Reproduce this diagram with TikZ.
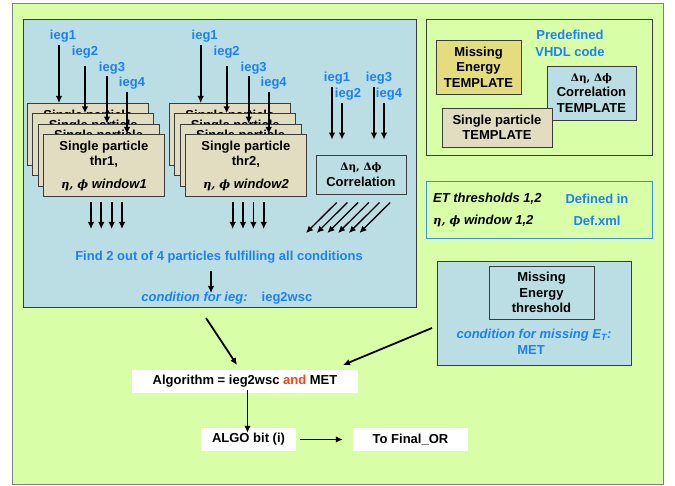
\documentclass[tikz,border=0pt]{standalone}
\usepackage{fontspec}
\setmainfont{Liberation Sans}
\newfontfamily\grk{DejaVu Serif}
\usetikzlibrary{arrows.meta,calc}
\definecolor{bggreen}{RGB}{216,255,168}
\definecolor{panelblue}{RGB}{186,222,227}
\definecolor{tanbox}{RGB}{226,221,192}
\definecolor{ylwbox}{RGB}{229,221,125}
\definecolor{txtblue}{RGB}{28,128,250}
\definecolor{andred}{RGB}{255,64,16}
\definecolor{bordblue}{RGB}{64,140,240}
\definecolor{edge}{RGB}{60,60,60}
\newcommand{\etaphi}{{\grk\bfseries\itshape\fontsize{11.5}{13}\selectfont η, ϕ}}
\newcommand{\deta}{{\grk\bfseries\fontsize{10.5}{13}\selectfont Δη, Δϕ}}
\begin{document}
\begin{tikzpicture}[x=1pt,y=-1pt,
  lbl/.style={font=\fontsize{13}{15.5}\selectfont\bfseries, inner sep=0pt, align=center},
  blbl/.style={lbl, text=txtblue},
  ilbl/.style={lbl, font=\fontsize{13}{15.5}\selectfont\bfseries\itshape},
  frame/.style={draw=edge, line width=0.8pt, inner sep=0pt},
  spbox/.style={frame, fill=tanbox, minimum width=121, minimum height=62, anchor=north west},
  arr/.style={-{Latex[length=7pt,width=6.5pt]}, line width=1.8pt},
  whitebox/.style={lbl, fill=white, minimum height=23}
]
\useasboundingbox (0,0) rectangle (675,486);
% backgrounds
\node[frame, draw=gray, fill=bggreen, minimum width=651, minimum height=481] (bg) at (337.5,243.5) {};
\node[frame, fill=panelblue, minimum width=393, minimum height=288] (left) at (219.5,163) {};
\node[frame, fill=bggreen, minimum width=226, minimum height=136] (vhdl) at (539,87) {};

% stacked single particle boxes
\foreach \g/\thr in {0/1,1/2} {
  \foreach \k in {0,...,2} {
    \pgfmathsetmacro\bx{27+142*\g+5.33*\k}
    \pgfmathsetmacro\by{103+10.33*\k}
    \node[spbox] (sp\g\k) at (\bx,\by) {};
    \node[lbl] (sp\g\k-a) at ($(sp\g\k.north)+(0,13)$) {Single particle};
  }
  \pgfmathsetmacro\bx{27+142*\g+16}
  \node[spbox] (sp\g3) at (\bx,134) {};
  \node[lbl] (sp\g3-a) at ($(sp\g3.north)+(0,13)$) {Single particle};
  \node[lbl] (sp\g3-b) at ($(sp\g3.north)+(0,28)$) {thr\thr,};
  \node[lbl] (sp\g3-c) at ($(sp\g3.north)+(0,51)$) {\etaphi\ \textit{window\thr}};
  \pgfmathsetmacro\dx{141.7*\g}
  \node[blbl] (i\g1) at (63+\dx,36) {ieg1};
  \node[blbl] (i\g2) at (85+\dx,52) {ieg2};
  \node[blbl] (i\g3) at (112+\dx,68) {ieg3};
  \node[blbl] (i\g4) at (132+\dx,83) {ieg4};
  \coordinate (s\g1) at (59+\dx,45);
  \coordinate (s\g2) at (85+\dx,66);
  \coordinate (s\g3) at (107+\dx,76);
  \coordinate (s\g4) at (127+\dx,92);
  \draw[arr] (s\g1) -- (s\g1 |- sp\g0.north);
  \draw[arr] (s\g2) -- (s\g2 |- sp\g1.north);
  \draw[arr] (s\g3) -- (s\g3 |- sp\g2.north);
  \draw[arr] (s\g4) -- (s\g4 |- sp\g3.north);
  \foreach \i/\xx in {0/91,1/101.3,2/111.7,3/122} {
    \coordinate (d\g\i a) at (\xx+\dx,202);
    \coordinate (d\g\i b) at (\xx+\dx,229);
    \draw[arr] (d\g\i a) -- (d\g\i b);
  }
}

% correlation
\node[blbl] (c1) at (337,78) {ieg1};
\node[blbl] (c2) at (348,94) {ieg2};
\node[blbl] (c3) at (379,78) {ieg3};
\node[blbl] (c4) at (389,94) {ieg4};
\node[frame, lbl, minimum width=90, minimum height=39] (corr) at (361,174.5) {\deta\\Correlation};
\coordinate (cs1) at (332,87);
\coordinate (cs2) at (342,103);
\coordinate (cs3) at (374,87);
\coordinate (cs4) at (384,103);
\foreach \j in {1,...,4} {
  \draw[arr] (cs\j) -- ($(cs\j |- corr.north)+(0,-15)$);
}
\foreach \i in {0,...,5} {
  \coordinate (da\i) at (336.7+10.7*\i,202.5);
  \coordinate (db\i) at (306+10.7*\i,233);
  \draw[arr, line width=1.3pt] (da\i) -- (db\i);
}

\node[blbl] (find) at (219,257) {Find 2 out of 4 particles fulfilling all conditions};
\coordinate (fa) at (211,271);
\coordinate (fb) at (211,293);
\draw[arr] (fa) -- (fb);
\node[ilbl, text=txtblue] (cond) at (194.5,298) {condition for ieg:};
\node[blbl] (w2) at (287,298) {ieg2wsc};

% templates
\node[blbl, font=\fontsize{13}{17}\selectfont\bfseries] (pre) at (570,43.5) {Predefined\\VHDL code};
\node[frame, lbl, fill=ylwbox, minimum width=85, minimum height=54] (metpl) at (478.5,67) {Missing\\Energy\\TEMPLATE};
\node[frame, lbl, fill=panelblue, minimum width=89, minimum height=54] (cortpl) at (591.5,93) {\deta\\Correlation\\TEMPLATE};
\node[frame, lbl, fill=tanbox, minimum width=110, minimum height=39] (sptpl) at (497,127.5) {Single particle\\TEMPLATE};

% definitions
\node[draw=bordblue, line width=1pt, inner sep=0pt, minimum width=226, minimum height=57] (def) at (539,210.5) {};
\node[ilbl, anchor=west] (et) at (433,199) {ET thresholds 1,2};
\node[lbl, anchor=west] (win) at (433,221) {\etaphi\ \textit{window 1,2}};
\node[blbl] (defin) at (597,199) {Defined in};
\node[blbl] (defxml) at (597,221) {Def.xml};

% missing energy
\node[frame, fill=panelblue, minimum width=194, minimum height=104] (mepanel) at (534,313) {};
\node[frame, lbl, minimum width=105, minimum height=53] (meth) at (541.5,292.5) {Missing\\Energy\\threshold};
\node[ilbl, text=txtblue] (condme) at (534,335) {condition for missing E\textsubscript{T}:};
\node[blbl] (met) at (531,350) {MET};

% bottom
\node[whitebox, minimum width=226] (alg) at (245,381.5) {Algorithm = ieg2wsc \textcolor{andred}{and} MET};
\node[whitebox, minimum width=95] (algo) at (248.5,439.5) {ALGO bit (i)};
\node[whitebox, minimum width=115] (final) at (410.5,439.5) {To Final\_OR};

\coordinate (la) at (206,318);
\coordinate (lb) at (237,365);
\draw[arr] (la) -- (lb);
\coordinate (ma) at (432,328);
\coordinate (mb) at (343,365);
\draw[arr] (ma) -- (mb);
\draw[arr] ([yshift=3pt]alg.south -| 247.5,0) -- ([yshift=-5pt]algo.north -| 247.5,0);
\draw[arr] ([xshift=4pt]algo.east) -- ([xshift=-10pt]final.west);
\end{tikzpicture}
\end{document}
